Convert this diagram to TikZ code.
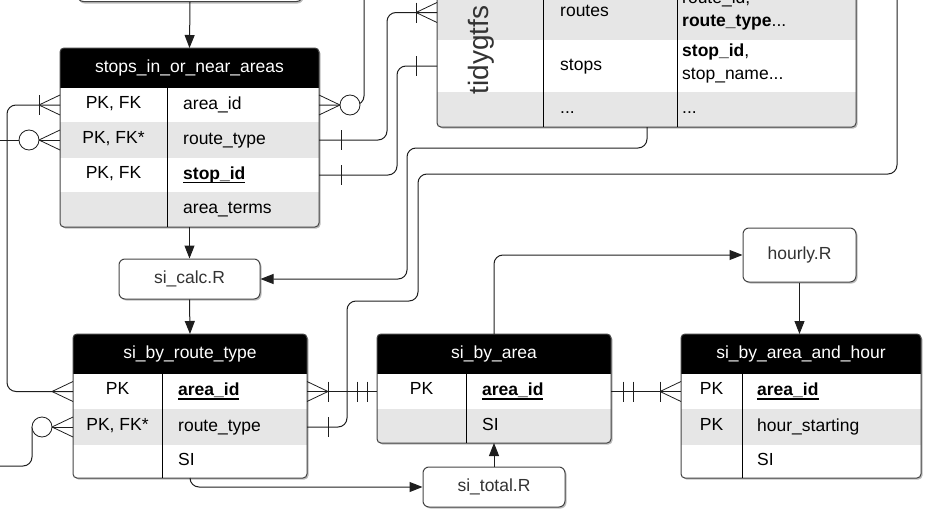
\documentclass[tikz,border=0pt]{standalone}
\usepackage{fontspec}
\setmainfont{Liberation Sans}
\usetikzlibrary{arrows.meta}
\definecolor{rowgrey}{HTML}{E6E6E6}
\definecolor{lnc}{HTML}{1E1E1E}
\definecolor{txtg}{HTML}{333333}
\definecolor{bordc}{HTML}{444444}
\definecolor{shadc}{HTML}{BDBDBD}
\newcommand\ulbox[1]{\setbox0\hbox{#1}\rlap{\vrule height -2.2pt depth 3.7pt width \wd0}\box0}
\begin{document}
\begin{tikzpicture}[x=1pt,y=-1pt,
  font=\fontsize{17.5}{21}\selectfont,
  rw/.style={draw=none,inner sep=0,outer sep=0,anchor=north west},
  hdr/.style={rw,fill=black,text=white,text height=12.6pt,text depth=3.7pt},
  ktxt/.style={inner sep=0,text height=12.6pt,text depth=3.7pt,anchor=center},
  ftxt/.style={inner sep=0,text height=12.6pt,text depth=3.7pt,anchor=west},
  tbl/.style={draw=bordc,line width=1,rounded corners=4},
  shad/.style={fill=shadc,rounded corners=4},
  coldiv/.style={draw=black,line width=1},
  rbox/.style={draw=bordc,line width=1,rounded corners=6,fill=white,text=txtg,inner sep=0,text height=12.6pt,text depth=3.7pt},
  con/.style={draw=lnc,line width=1,rounded corners=9},
  arr/.style={con,-{Triangle[length=13pt,width=10pt]}},
  sym/.style={draw=lnc,line width=0.8},
  pics/crow/.style={code={\draw[sym] (-21,0) -- (0,-10) (-21,0) -- (0,10);}},
  pics/bar/.style={code={\draw[sym] (#1,-10) -- (#1,10);}},
  pics/ring/.style={code={\draw[sym,fill=white] (-31,0) circle[radius=10];}},
]
\useasboundingbox (0,0) rectangle (935,514);
\clip (0,0) rectangle (935,514);

% ---------- top (cut) box ----------
\fill[shad,rounded corners=6] (78.5,-40) rectangle (303.5,3.5);
\node[rbox,minimum width=225,minimum height=42,anchor=south west] (top) at (77,2) {};

% ---------- stops_in_or_near_areas ----------
\fill[shad] (61.5,49.5) rectangle (320.5,228.5);
\begin{scope}
  \clip[rounded corners=4] (60,48) rectangle (319,227);
  \node[hdr,minimum width=259,minimum height=40] (Sh) at (60,48) {stops\_in\_or\_near\_areas};
  \node[rw,fill=white,minimum width=259,minimum height=34] (S1) at (60,88) {};
  \node[rw,fill=rowgrey,minimum width=259,minimum height=36] (S2) at (60,122) {};
  \node[rw,fill=white,minimum width=259,minimum height=34] (S3) at (60,158) {};
  \node[rw,fill=rowgrey,minimum width=259,minimum height=35] (S4) at (60,192) {};
\end{scope}
\draw[tbl] (60,48) rectangle (319,227);
\draw[coldiv] (167,88) -- (167,227);
\node[ktxt] (S1k) at (113.5,104) {PK, FK};
\node[ftxt] (S1f) at (183,105) {area\_id};
\node[ktxt] (S2k) at (113.5,139) {PK, FK*};
\node[ftxt] (S2f) at (183,140) {route\_type};
\node[ktxt] (S3k) at (113.5,174) {PK, FK};
\node[ftxt] (S3f) at (183,175) {\ulbox{\textbf{stop\_id}}};
\node[ftxt] (S4f) at (183,209.5) {area\_terms};

% ---------- tidygtfs ----------
\fill[shad] (438.5,-58.5) rectangle (857.5,128.5);
\begin{scope}
  \clip[rounded corners=4] (437,-60) rectangle (856,127);
  \node[rw,fill=white,minimum width=419,minimum height=45] (T0) at (437,-60) {};
  \node[rw,fill=rowgrey,minimum width=419,minimum height=55] (T1) at (437,-15) {};
  \node[rw,fill=white,minimum width=419,minimum height=52] (T2) at (437,40) {};
  \node[rw,fill=rowgrey,minimum width=419,minimum height=35] (T3) at (437,92) {};
\end{scope}
\draw[tbl] (437,-60) rectangle (856,127);
\draw[coldiv] (543,-15) -- (543,127);
\draw[coldiv] (677,-15) -- (677,127);
\node[rotate=90,inner sep=0,text=txtg,font=\fontsize{28}{32}\selectfont] (Tlab) at (481,50) {tidygtfs};
\node[ftxt] (T1a) at (560,12.5) {routes};
\node[ftxt] (T1b) at (682,-1) {route\_id,};
\node[ftxt] (T1c) at (682,22) {\textbf{route\_type}...};
\node[ftxt] (T2a) at (560,66) {stops};
\node[ftxt] (T2b) at (682,52.5) {\textbf{stop\_id},};
\node[ftxt] (T2c) at (682,75.5) {stop\_name...};
\node[ftxt] (T3a) at (560,109.5) {...};
\node[ftxt] (T3b) at (682,109.5) {...};

% ---------- si_by_route_type ----------
\fill[shad] (74.5,335.5) rectangle (308.5,479.5);
\begin{scope}
  \clip[rounded corners=4] (73,334) rectangle (307,478);
  \node[hdr,minimum width=234,minimum height=40] (Rh) at (73,334) {si\_by\_route\_type};
  \node[rw,fill=white,minimum width=234,minimum height=35] (R1) at (73,374) {};
  \node[rw,fill=rowgrey,minimum width=234,minimum height=36] (R2) at (73,409) {};
  \node[rw,fill=white,minimum width=234,minimum height=33] (R3) at (73,445) {};
\end{scope}
\draw[tbl] (73,334) rectangle (307,478);
\draw[coldiv] (162,374) -- (162,478);
\node[ktxt] (R1k) at (117.5,390.5) {PK};
\node[ftxt] (R1f) at (178,391.5) {\ulbox{\textbf{area\_id}}};
\node[ktxt] (R2k) at (117.5,426) {PK, FK*};
\node[ftxt] (R2f) at (178,427) {route\_type};
\node[ftxt] (R3f) at (178,461.5) {SI};

% ---------- si_by_area ----------
\fill[shad] (378.5,335.5) rectangle (612.5,444.5);
\begin{scope}
  \clip[rounded corners=4] (377,334) rectangle (611,443);
  \node[hdr,minimum width=234,minimum height=40] (Ah) at (377,334) {si\_by\_area};
  \node[rw,fill=white,minimum width=234,minimum height=35] (A1) at (377,374) {};
  \node[rw,fill=rowgrey,minimum width=234,minimum height=34] (A2) at (377,409) {};
\end{scope}
\draw[tbl] (377,334) rectangle (611,443);
\draw[coldiv] (466,374) -- (466,443);
\node[ktxt] (A1k) at (421.5,390.5) {PK};
\node[ftxt] (A1f) at (482,391.5) {\ulbox{\textbf{area\_id}}};
\node[ftxt] (A2f) at (482,426) {SI};

% ---------- si_by_area_and_hour ----------
\fill[shad] (682.5,335.5) rectangle (922.5,479.5);
\begin{scope}
  \clip[rounded corners=4] (681,334) rectangle (921,478);
  \node[hdr,minimum width=240,minimum height=40] (Hh) at (681,334) {si\_by\_area\_and\_hour};
  \node[rw,fill=white,minimum width=240,minimum height=35] (H1) at (681,374) {};
  \node[rw,fill=rowgrey,minimum width=240,minimum height=36] (H2) at (681,409) {};
  \node[rw,fill=white,minimum width=240,minimum height=33] (H3) at (681,445) {};
\end{scope}
\draw[tbl] (681,334) rectangle (921,478);
\draw[coldiv] (742,374) -- (742,478);
\node[ktxt] (H1k) at (711.5,390.5) {PK};
\node[ftxt] (H1f) at (757,391.5) {\ulbox{\textbf{area\_id}}};
\node[ktxt] (H2k) at (711.5,426) {PK};
\node[ftxt] (H2f) at (757,427) {hour\_starting};
\node[ftxt] (H3f) at (757,461.5) {SI};

% ---------- script boxes ----------
\fill[shad,rounded corners=6] (120.5,260.5) rectangle (261.5,300.5);
\node[rbox,minimum width=141,minimum height=40] (calc) at (189.5,279) {si\_calc.R};
\fill[shad,rounded corners=6] (744.5,229.5) rectangle (857.5,283.5);
\node[rbox,minimum width=113,minimum height=54] (hourly) at (799.5,255) {hourly.R};
\fill[shad,rounded corners=6] (424.5,468.5) rectangle (566.5,508.5);
\node[rbox,minimum width=142,minimum height=40] (total) at (494,487) {si\_total.R};

% ---------- flow arrows ----------
\draw[arr] (top.south) -- (Sh.north);
\draw[arr] (S4.south) -- (calc.north);
\draw[arr] (calc.south) -- (Rh.north);
\draw[arr] (R3.south) |- (total.west);
\draw[arr] (total.north) -- (A2.south);
\draw[arr] (Ah.north) |- (hourly.west);
\draw[arr] (hourly.south) -- (hourly.south |- Hh.north);
\coordinate (tb) at (647,127);
\draw[arr] (tb) |- (407,148) |- (calc.east);

% ---------- relationship connectors ----------
% stops.area_id (left) -> si_by_route_type.area_id
\draw[con] (S1.west) -| (7,250) |- (R1.west);
\pic at (S1.west) {crow};
\pic at (S1.west) {bar=-21};
\pic at (R1.west) {crow};
% stops.route_type (left) -> off canvas
\draw[con] (S2.west) -- ++(-80,0);
\pic at (S2.west) {crow};
\pic at (S2.west) {ring};
% si_by_route_type.route_type (left) -> off canvas
\draw[con] (R2.west) -- (32,427);
\draw[con] (32,427) -- (32,466) -- (-10,466);
\pic at (R2.west) {crow};
\pic at (R2.west) {ring};
% stops.area_id (right) -> up
\draw[con] (S1.east) -| (364,-10);
\pic[xscale=-1] at (S1.east) {crow};
\pic[xscale=-1] at (S1.east) {ring};
% stops.route_type -> tidygtfs.routes
\draw[con] (S2.east) -| (387,60) |- (T1.west);
\pic[xscale=-1] at (S2.east) {bar=-22};
\pic at (T1.west) {crow};
\pic at (T1.west) {bar=-21};
% stops.stop_id -> tidygtfs.stops
\draw[con] (S3.east) -| (397,100) |- (T2.west);
\pic[xscale=-1] at (S3.east) {bar=-22};
\pic at (T2.west) {bar=-21};
% far right line -> si_by_route_type.route_type
\coordinate (tr) at (897,-10);
\draw[con] (tr) |- (418,174) |- (347,301) |- (R2.east);
\pic[xscale=-1] at (R2.east) {bar=-21};
% si_by_route_type.area_id -> si_by_area.area_id
\draw[con] (R1.east) -- (A1.west);
\pic[xscale=-1] at (R1.east) {crow};
\pic[xscale=-1] at (R1.east) {bar=-21};
\pic at (A1.west) {bar=-10};
\pic at (A1.west) {bar=-20};
% si_by_area.area_id -> si_by_area_and_hour.area_id
\draw[con] (A1.east) -- (H1.west);
\pic[xscale=-1] at (A1.east) {bar=-12};
\pic[xscale=-1] at (A1.east) {bar=-22};
\pic at (H1.west) {crow};
\pic at (H1.west) {bar=-21};
\end{tikzpicture}
\end{document}
